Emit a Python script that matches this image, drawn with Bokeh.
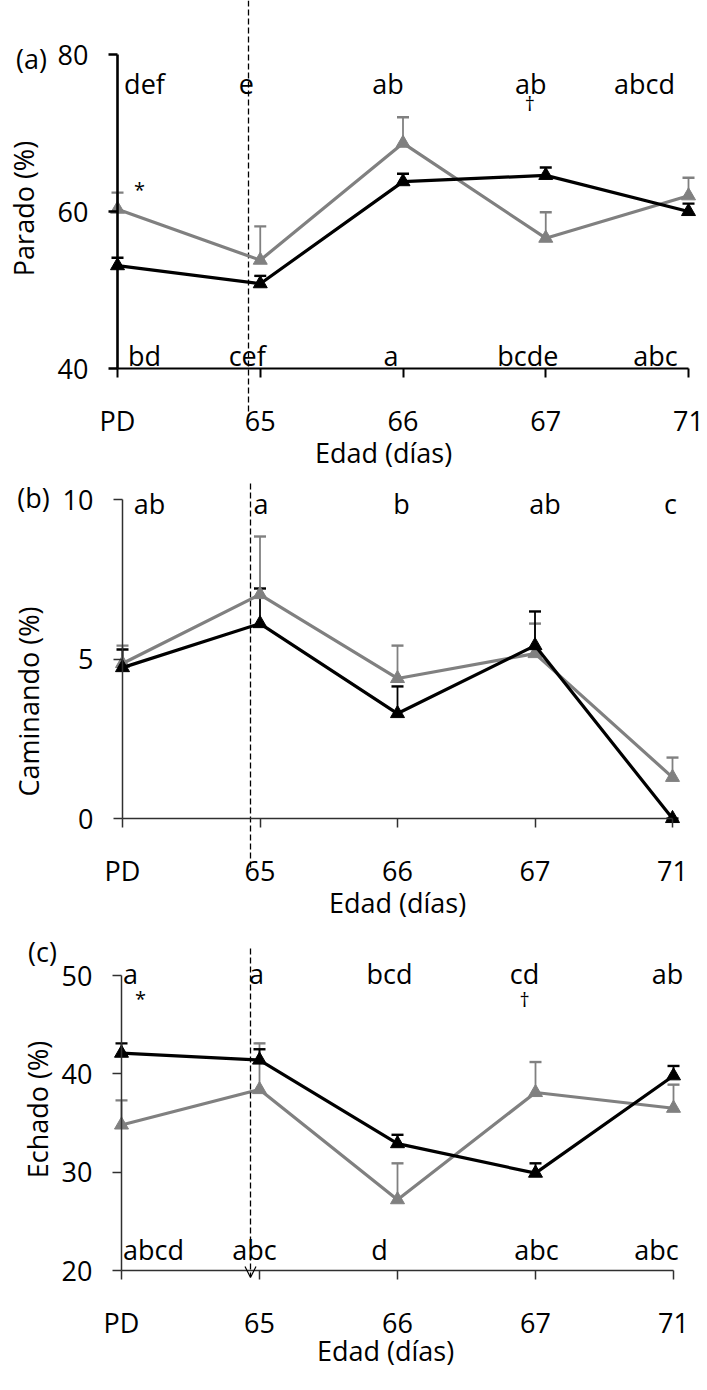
from bokeh.plotting import figure
from bokeh.models import (ColumnDataSource, Whisker, TeeHead, FixedTicker, Label,
                          Arrow, OpenHead)
from bokeh.layouts import column
from bokeh.embed import file_html
from bokeh.resources import INLINE
from bokeh.core.properties import value

# ---------------- data ----------------
ages = ["PD", "65", "66", "67", "71"]
xpos = [0, 1, 2, 3, 4]

parado_black = [53.1, 50.8, 63.8, 64.6, 60.0]
parado_black_se = [1.0, 1.0, 1.0, 1.0, 1.0]
parado_gray = [60.3, 53.8, 68.7, 56.6, 62.0]
parado_gray_se = [2.1, 4.3, 3.3, 3.3, 2.3]
parado_top = ["def", "e", "ab", "ab", "abcd"]
parado_bottom = ["bd", "cef", "a", "bcde", "abc"]

caminando_black = [4.73, 6.11, 3.29, 5.42, 0.0]
caminando_black_se = [0.57, 1.10, 0.85, 1.07, 0.0]
caminando_gray = [4.86, 7.02, 4.39, 5.17, 1.29]
caminando_gray_se = [0.56, 1.82, 1.03, 0.94, 0.62]
caminando_top = ["ab", "a", "b", "ab", "c"]
caminando_bottom = ["", "", "", "", ""]

echado_black = [42.1, 41.4, 32.9, 29.9, 39.8]
echado_black_se = [1.0, 1.1, 0.9, 1.0, 1.0]
echado_gray = [34.8, 38.4, 27.2, 38.1, 36.5]
echado_gray_se = [2.5, 4.7, 3.7, 3.1, 2.4]
echado_top = ["a", "a", "bcd", "cd", "ab"]
echado_bottom = ["abcd", "abc", "d", "abc", "abc"]

W = 707
FONT = "Open Sans"
FS = "27px"
GRAY = "#808080"


def make_panel(h, x0px, x4px, ytop_val, ytop_px, ybot_val, ybot_px, yticks,
               black, black_se, gray, gray_se, top, bottom,
               top_py, top_dx, bot_py, bot_dx, ylabel, ylabel_pos, xlabel_pos,
               tag, tag_pos, dash_px, dash_top, dash_bot, dash_arrow,
               marks, axis_w, axis_c):
    sx = (x4px - x0px) / 4.0
    x_start = -x0px / sx
    x_end = 4 + (W - x4px) / sx
    sy = (ybot_px - ytop_px) / float(ytop_val - ybot_val)
    y_end = ytop_val + ytop_px / sy
    y_start = ybot_val - (h - ybot_px) / sy

    def X(px):
        return x_start + px / sx

    def Y(py):
        return y_end - py / sy

    p = figure(width=W, height=h, x_range=(x_start, x_end), y_range=(y_start, y_end),
               output_backend="svg", toolbar_location=None, min_border=0,
               title=None, outline_line_color=None)
    p.grid.visible = False
    p.background_fill_color = "white"
    p.border_fill_color = "white"

    for ax in (p.xaxis[0], p.yaxis[0]):
        ax.major_label_text_font = FONT
        ax.major_label_text_font_size = FS
        ax.major_label_text_color = "black"
        ax.minor_tick_line_color = None
        ax.axis_line_color = axis_c
        ax.major_tick_line_color = axis_c
        ax.major_tick_in = 0
    xa = p.xaxis[0]
    ya = p.yaxis[0]
    xa.fixed_location = ybot_val
    ya.fixed_location = 0
    xa.bounds = (0, 4)
    ya.bounds = (ybot_val, ytop_val)
    xa.ticker = FixedTicker(ticks=xpos)
    xa.major_label_overrides = {i: lab for i, lab in zip(xpos, ages)}
    ya.ticker = FixedTicker(ticks=yticks)
    xa.major_tick_out = 9
    ya.major_tick_out = 9
    xa.major_label_standoff = 24
    ya.major_label_standoff = 20
    xa.axis_line_width = axis_w[0]
    xa.major_tick_line_width = axis_w[0]
    ya.axis_line_width = axis_w[1]
    ya.major_tick_line_width = axis_w[1]

    # dashed reference line
    if dash_arrow:
        p.add_layout(Arrow(x_start=X(dash_px), y_start=Y(dash_top), x_end=X(dash_px),
                           y_end=Y(dash_bot), line_dash="6 3", line_width=1.3,
                           line_color="black",
                           end=OpenHead(size=11, line_width=1.2, line_color="black")))
    else:
        p.segment(x0=[X(dash_px)], y0=[Y(dash_top)], x1=[X(dash_px)], y1=[Y(dash_bot)],
                  line_dash="6 3", line_width=1.3, line_color="black")

    # series
    for vals, se, col, lw, ew in ((gray, gray_se, GRAY, 3.2, 1.8),
                                  (black, black_se, "black", 3.2, 1.8)):
        src = ColumnDataSource(dict(x=xpos, y=vals,
                                    hi=[v + e for v, e in zip(vals, se)]))
        p.add_layout(Whisker(base="x", lower="y", upper="hi", source=src,
                             dimension="height", line_color=col, line_width=ew,
                             upper_head=TeeHead(size=12, line_color=col, line_width=ew + 0.6),
                             lower_head=None, level="underlay"))
        p.line("x", "y", source=src, line_color=col, line_width=lw)
        p.scatter("x", "y", source=src, marker="triangle", size=14,
                  fill_color=col, line_color=col)

    # letters
    p.text(x=xpos, y=[Y(top_py)] * 5, text=top, x_offset=top_dx,
           text_align="center", text_baseline="middle",
           text_font=value(FONT), text_font_size=FS, text_color="black")
    p.text(x=xpos, y=[Y(bot_py)] * 5, text=bottom, x_offset=bot_dx,
           text_align="center", text_baseline="middle",
           text_font=value(FONT), text_font_size=FS, text_color="black")
    for (sym, idx, dx, py) in marks:
        p.text(x=[xpos[idx]], y=[Y(py)], text=[sym], x_offset=[dx],
               text_align="center", text_baseline="middle",
               text_font=value(FONT), text_font_size="20px", text_color="black")

    p.add_layout(Label(x=X(ylabel_pos[0]), y=Y(ylabel_pos[1]), text=ylabel, angle=90,
                       angle_units="deg", text_align="center", text_baseline="middle",
                       text_font=FONT, text_font_size=FS, text_color="black"))
    p.add_layout(Label(x=X(xlabel_pos[0]), y=Y(xlabel_pos[1]), text="Edad (días)",
                       text_align="center", text_baseline="middle",
                       text_font=FONT, text_font_size=FS, text_color="black"))
    p.add_layout(Label(x=X(tag_pos[0]), y=Y(tag_pos[1]), text=tag,
                       text_align="center", text_baseline="middle",
                       text_font=FONT, text_font_size=FS, text_color="black"))
    return p


pa = make_panel(470, 117, 688, 80, 54, 40, 368, [40, 60, 80],
                parado_black, parado_black_se, parado_gray, parado_gray_se,
                parado_top, parado_bottom,
                83, [27, -14, -15, -15, -44], 355, [27, -13, -12, -18, -33],
                "Parado (%)", (23, 208), (383, 452), "(a)", (31, 58),
                248, 0, 417, False,
                [("*", 0, 22, 189), ("\u2020", 3, -16, 103)],
                (2.0, 2.6), "black")

pb = make_panel(455, 122, 672, 10, 29, 0, 348, [0, 5, 10],
                caminando_black, caminando_black_se, caminando_gray, caminando_gray_se,
                caminando_top, caminando_bottom,
                33, [27, 1, 4, 10, -2], 320, [0, 0, 0, 0, 0],
                "Caminando (%)", (28, 231), (397, 432), "(b)", (33, 27),
                250, 13, 400, False,
                [],
                (1.5, 1.5), "#303030")

pc = make_panel(465, 121, 673, 50, 50, 20, 345, [20, 30, 40, 50],
                echado_black, echado_black_se, echado_gray, echado_gray_se,
                echado_top, echado_bottom,
                48, [9, -3, -8, -11, -6], 324, [32, -5, -18, 1, -17],
                "Echado (%)", (37, 184), (385, 425), "(c)", (42, 26),
                250, 23, 352, True,
                [("*", 0, 19, 73), ("\u2020", 3, -11, 74)],
                (1.5, 1.5), "#303030")

layout = column(pa, pb, pc, spacing=0)
open("out.html", "w").write(file_html(layout, INLINE))
